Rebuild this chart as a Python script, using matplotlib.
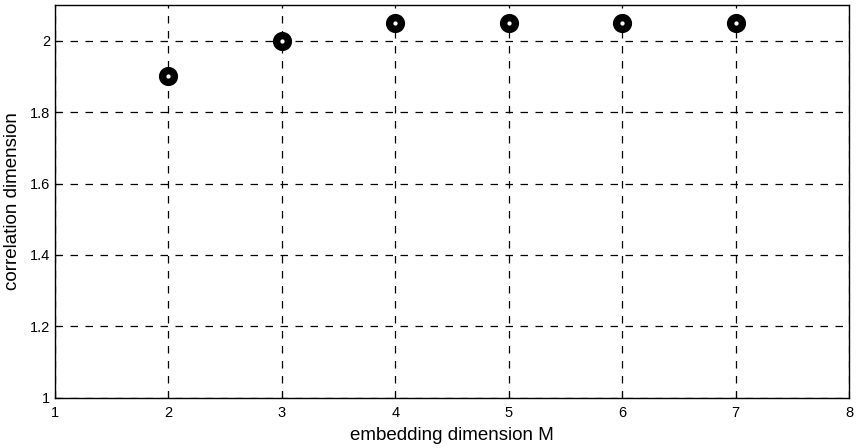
import numpy as np
import matplotlib.pyplot as plt

# Datos: dimension de embebido vs dimension de correlacion
m_emb = [2, 3, 4, 5, 6, 7]
d_corr = [1.90, 2.00, 2.05, 2.05, 2.05, 2.05]

xticks = [1, 2, 3, 4, 5, 6, 7, 8]
yticks = [1, 1.2, 1.4, 1.6, 1.8, 2]

plt.rcParams['font.family'] = ['Liberation Sans', 'DejaVu Sans']

fig = plt.figure(figsize=(8.57, 4.48), dpi=100)
ax = fig.add_axes([0.064, 0.112, 0.927, 0.877])

ax.plot(m_emb, d_corr, 'o', ms=8.5, mew=5.3, mfc='white', mec='black', zorder=3)

ax.set_xlim(1, 8)
ax.set_ylim(1, 2.1)
ax.set_xticks(xticks)
ax.set_yticks(yticks)
ax.set_yticklabels(['1', '1.2', '1.4', '1.6', '1.8', '2'])
ax.tick_params(direction='in', length=4, labelsize=10.5, colors='black')
ax.tick_params(axis='x', pad=6)
ax.grid(True, color='black', linestyle=(0, (6, 6)), linewidth=0.9)
for s in ax.spines.values():
    s.set_linewidth(1.0)

ax.set_xlabel('embedding dimension M', fontsize=13.5, labelpad=5)
ax.set_ylabel('correlation dimension', fontsize=13.5, labelpad=6)

fig.savefig('out.png', dpi=100)
